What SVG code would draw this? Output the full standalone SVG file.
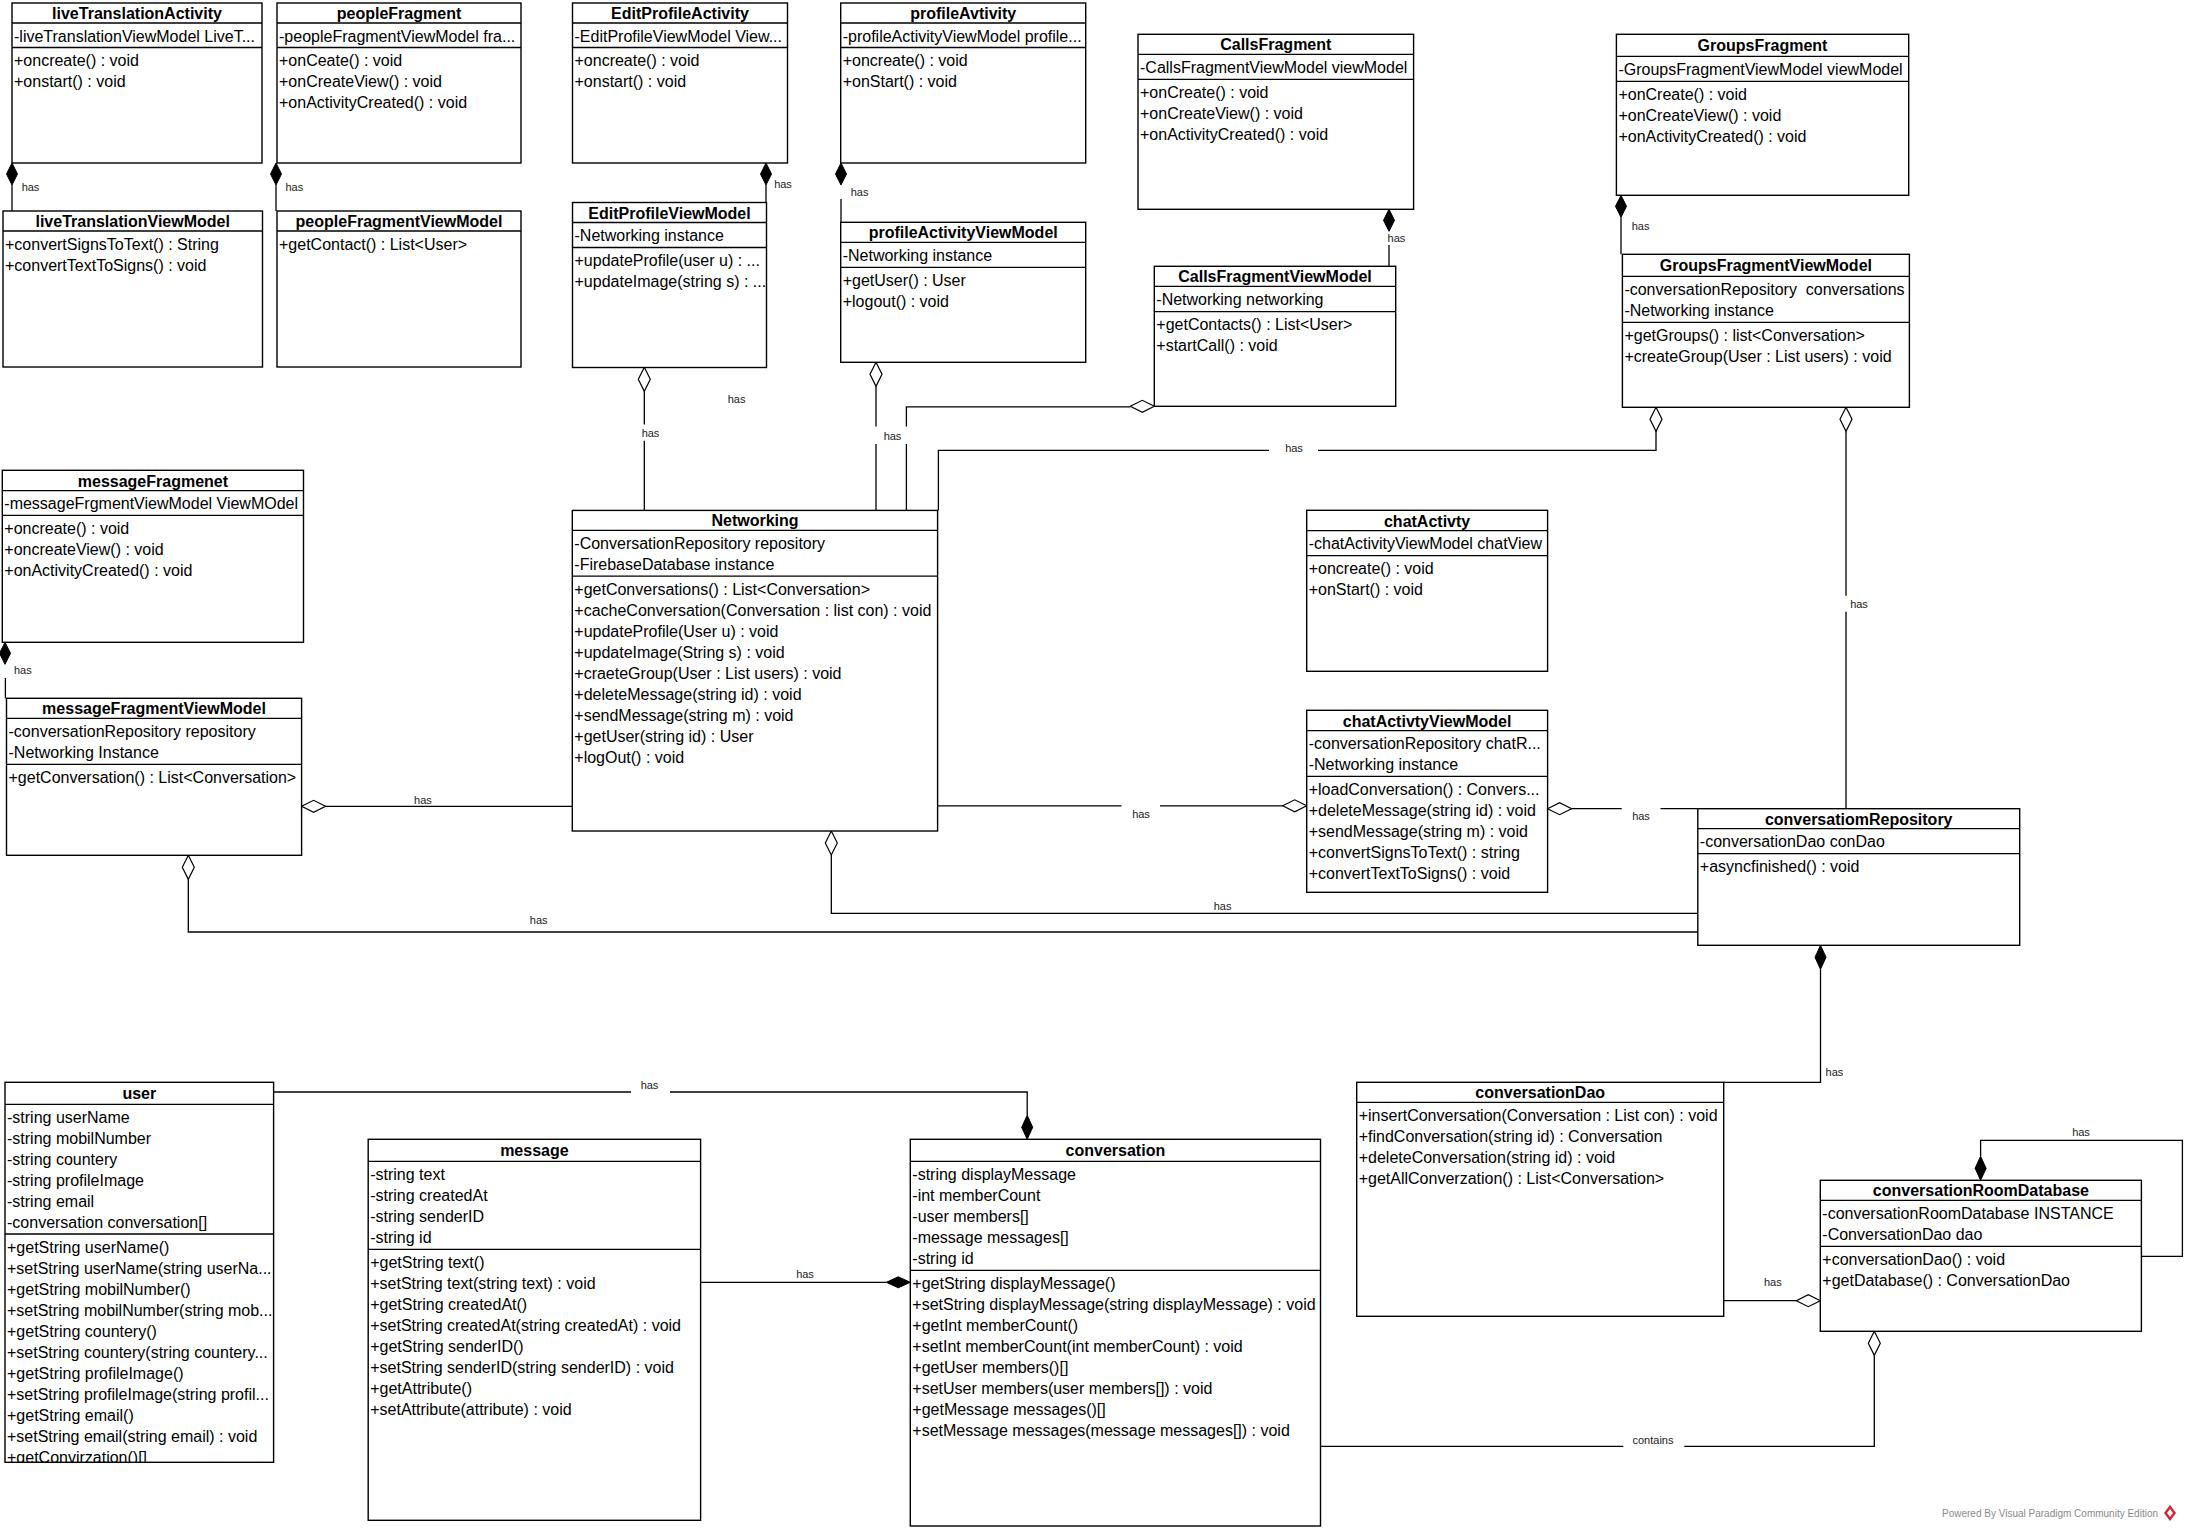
<svg xmlns="http://www.w3.org/2000/svg" width="2186" height="1530" viewBox="0 0 2186 1530">
<style>
.box{fill:#fff;stroke:#000;stroke-width:1.4}
.sep{stroke:#000;stroke-width:1.3}
text{font-family:"Liberation Sans",Arial,sans-serif;font-size:16px;fill:#000}
.ti{font-weight:bold;text-anchor:middle}
.lbl{font-size:11px;text-anchor:middle;fill:#222}
.c{fill:none;stroke:#000;stroke-width:1.3}
.fd{fill:#000;stroke:#000;stroke-width:1}
.od{fill:#fff;stroke:#000;stroke-width:1.2}
.foot{font-size:10px;fill:#8a8a8a}
</style>
<defs>
<clipPath id="clipUser"><rect x="5" y="1082" width="269" height="380"/></clipPath>
</defs>
<rect width="2186" height="1530" fill="#fff"/>

<g id="connectors">
<!-- compositions top row -->
<polygon class="fd" points="12,163 17.5,174 12,185 6.5,174"/><path class="c" d="M12 185V211"/>
<polygon class="fd" points="276,163 281.5,174 276,185 270.5,174"/><path class="c" d="M276 185V211"/>
<polygon class="fd" points="766,163 771.5,174 766,185 760.5,174"/><path class="c" d="M766 185V202.5"/>
<polygon class="fd" points="841,163 846.5,174 841,185 835.5,174"/><path class="c" d="M841 199V222.3"/>
<polygon class="fd" points="1389,209.3 1394.5,220.3 1389,231.3 1383.5,220.3"/><path class="c" d="M1389 245V266.3"/>
<polygon class="fd" points="1621,195.3 1626.5,206.3 1621,217.3 1615.5,206.3"/><path class="c" d="M1621 217.3V254.3"/>
<polygon class="fd" points="5,642.3 10.5,653.3 5,664.3 -0.5,653.3"/><path class="c" d="M5.4 678V698.3"/>
<!-- messageFragmentViewModel aggregations -->
<path class="c" d="M325.6 806.3H572.3"/><polygon class="od" points="301.6,806.3 313.6,800.3 325.6,806.3 313.6,812.3"/>
<path class="c" d="M188.3 879.3V932H1697.8"/><polygon class="od" points="188.3,855.3 194.3,867.3 188.3,879.3 182.3,867.3"/>
<!-- into Networking top -->
<path class="c" d="M644.3 391.3V424.6M644.3 440.7V510.4"/><polygon class="od" points="644.3,367.3 650.3,379.3 644.3,391.3 638.3,379.3"/>
<path class="c" d="M876 386.3V426.4M876 444V510.4"/><polygon class="od" points="876,362.3 882,374.3 876,386.3 870,374.3"/>
<path class="c" d="M1130.3 406.8H906.4V426.4M906.4 444V510.4"/><polygon class="od" points="1154.3,406.3 1142.3,400.3 1130.3,406.3 1142.3,412.3"/>
<path class="c" d="M1656 431.3V450.3H1318M1269 450.3H938.4V510.4"/><polygon class="od" points="1656,407.3 1662,419.3 1656,431.3 1650,419.3"/>
<path class="c" d="M1846 431.3V595.7M1846 611.7V808.7"/><polygon class="od" points="1846,407.3 1852,419.3 1846,431.3 1840,419.3"/>
<!-- Networking / chat / repository -->
<path class="c" d="M1282.7 805.8H1160M1121.5 805.8H937.6"/><polygon class="od" points="1306.7,805.8 1294.7,799.8 1282.7,805.8 1294.7,811.8"/>
<path class="c" d="M1571.6 808.7H1621.7M1660.5 808.7H1697.8"/><polygon class="od" points="1547.6,808.7 1559.6,802.7 1571.6,808.7 1559.6,814.7"/>
<path class="c" d="M831.3 855V913.3H1697.8"/><polygon class="od" points="831.3,831 837.3,843 831.3,855 825.3,843"/>
<!-- repository / dao / room -->
<path class="c" d="M1820.5 969.3V1082.3H1723.7"/><polygon class="fd" points="1820.5,945.3 1826,957.3 1820.5,969.3 1815,957.3"/>
<path class="c" d="M1796.3 1300.7H1723.7"/><polygon class="od" points="1820.3,1300.7 1808.3,1294.7 1796.3,1300.7 1808.3,1306.7"/>
<path class="c" d="M1980.6 1156.3V1140.3H2182.4V1256.3H2141.4"/><polygon class="fd" points="1980.6,1180.3 1986.1,1168.3 1980.6,1156.3 1975.1,1168.3"/>
<path class="c" d="M1874.3 1355.3V1446.3H1684.3M1623.3 1446.3H1320.5"/><polygon class="od" points="1874.3,1331.3 1880.3,1343.3 1874.3,1355.3 1868.3,1343.3"/>
<!-- bottom row -->
<path class="c" d="M1027.2 1115.3V1092H670M631 1092H273.6"/><polygon class="fd" points="1027.2,1139.3 1032.7,1127.3 1027.2,1115.3 1021.7,1127.3"/>
<path class="c" d="M886.3 1282.3H700.6"/><polygon class="fd" points="910.3,1282.3 898.3,1276.8 886.3,1282.3 898.3,1287.8"/>
<!-- labels -->
<text class="lbl" x="30.5" y="191">has</text>
<text class="lbl" x="294.3" y="191">has</text>
<text class="lbl" x="783" y="188">has</text>
<text class="lbl" x="859.6" y="196">has</text>
<text class="lbl" x="1396.4" y="242">has</text>
<text class="lbl" x="1640.6" y="229.7">has</text>
<text class="lbl" x="22.8" y="674.3">has</text>
<text class="lbl" x="422.9" y="804">has</text>
<text class="lbl" x="538.7" y="924.3">has</text>
<text class="lbl" x="650.5" y="436.5">has</text>
<text class="lbl" x="736.6" y="402.6">has</text>
<text class="lbl" x="892.5" y="440">has</text>
<text class="lbl" x="1141" y="818">has</text>
<text class="lbl" x="1294" y="451.5">has</text>
<text class="lbl" x="1222.6" y="910.2">has</text>
<text class="lbl" x="1641" y="820">has</text>
<text class="lbl" x="1859" y="608.3">has</text>
<text class="lbl" x="1834.4" y="1076.3">has</text>
<text class="lbl" x="2081" y="1136.3">has</text>
<text class="lbl" x="1772.8" y="1286.3">has</text>
<text class="lbl" x="1653" y="1444.3">contains</text>
<text class="lbl" x="649.5" y="1089">has</text>
<text class="lbl" x="805" y="1278.3">has</text>
</g>

<g id="liveTranslationActivity">
<rect class="box" x="12" y="3" width="250" height="160"/>
<path class="sep" d="M12 23H262M12 47.5H262"/>
<text class="ti" x="137" y="19">liveTranslationActivity</text>
<text x="14" y="41.5">-liveTranslationViewModel LiveT...</text>
<text x="14" y="66">+oncreate() : void</text>
<text x="14" y="87">+onstart() : void</text>
</g>
<g id="liveTranslationViewModel">
<rect class="box" x="3" y="211" width="259.5" height="156"/>
<path class="sep" d="M3 231H262.5"/>
<text class="ti" x="132.7" y="227">liveTranslationViewModel</text>
<text x="5" y="249.5">+convertSignsToText() : String</text>
<text x="5" y="270.5">+convertTextToSigns() : void</text>
</g>
<g id="peopleFragment">
<rect class="box" x="277" y="3" width="244" height="160"/>
<path class="sep" d="M277 23H521M277 47.5H521"/>
<text class="ti" x="399" y="19">peopleFragment</text>
<text x="279" y="41.5">-peopleFragmentViewModel fra...</text>
<text x="279" y="66">+onCeate() : void</text>
<text x="279" y="87">+onCreateView() : void</text>
<text x="279" y="108">+onActivityCreated() : void</text>
</g>
<g id="peopleFragmentViewModel">
<rect class="box" x="277" y="211" width="244" height="156"/>
<path class="sep" d="M277 231H521"/>
<text class="ti" x="399" y="227">peopleFragmentViewModel</text>
<text x="279" y="249.5">+getContact() : List&lt;User&gt;</text>
</g>
<g id="EditProfileActivity">
<rect class="box" x="572.5" y="3" width="215" height="160"/>
<path class="sep" d="M572.5 23H787.5M572.5 47.5H787.5"/>
<text class="ti" x="680" y="19">EditProfileActivity</text>
<text x="574.5" y="41.5">-EditProfileViewModel View...</text>
<text x="574.5" y="66">+oncreate() : void</text>
<text x="574.5" y="87">+onstart() : void</text>
</g>
<g id="EditProfileViewModel">
<rect class="box" x="572.5" y="202.5" width="194" height="165"/>
<path class="sep" d="M572.5 222.5H766.5M572.5 247.5H766.5"/>
<text class="ti" x="669.5" y="218.5">EditProfileViewModel</text>
<text x="574.5" y="241">-Networking instance</text>
<text x="574.5" y="266">+updateProfile(user u) : ...</text>
<text x="574.5" y="287">+updateImage(string s) : ...</text>
</g>
<g id="profileAvtivity">
<rect class="box" x="840.7" y="3" width="245" height="160"/>
<path class="sep" d="M840.7 23H1085.7M840.7 47.5H1085.7"/>
<text class="ti" x="963.2" y="19">profileAvtivity</text>
<text x="842.7" y="41.5">-profileActivityViewModel profile...</text>
<text x="842.7" y="66">+oncreate() : void</text>
<text x="842.7" y="87">+onStart() : void</text>
</g>
<g id="profileActivityViewModel">
<rect class="box" x="840.7" y="222.3" width="245" height="140"/>
<path class="sep" d="M840.7 242.3H1085.7M840.7 267.3H1085.7"/>
<text class="ti" x="963.2" y="238.3">profileActivityViewModel</text>
<text x="842.7" y="260.8">-Networking instance</text>
<text x="842.7" y="285.8">+getUser() : User</text>
<text x="842.7" y="306.8">+logout() : void</text>
</g>
<g id="CallsFragment">
<rect class="box" x="1138" y="34.3" width="275.6" height="175"/>
<path class="sep" d="M1138 54.3H1413.6M1138 79.3H1413.6"/>
<text class="ti" x="1275.8" y="50.3">CallsFragment</text>
<text x="1140" y="72.8">-CallsFragmentViewModel viewModel</text>
<text x="1140" y="97.8">+onCreate() : void</text>
<text x="1140" y="118.8">+onCreateView() : void</text>
<text x="1140" y="139.8">+onActivityCreated() : void</text>
</g>
<g id="CallsFragmentViewModel">
<rect class="box" x="1154.3" y="266.3" width="241.4" height="140"/>
<path class="sep" d="M1154.3 286.3H1395.7M1154.3 311.7H1395.7"/>
<text class="ti" x="1275" y="282.3">CallsFragmentViewModel</text>
<text x="1156.3" y="304.8">-Networking networking</text>
<text x="1156.3" y="330.2">+getContacts() : List&lt;User&gt;</text>
<text x="1156.3" y="351.2">+startCall() : void</text>
</g>
<g id="GroupsFragment">
<rect class="box" x="1616.4" y="34.3" width="292.3" height="161"/>
<path class="sep" d="M1616.4 56.3H1908.7M1616.4 81.3H1908.7"/>
<text class="ti" x="1762.5" y="51.3">GroupsFragment</text>
<text x="1618.4" y="74.8">-GroupsFragmentViewModel viewModel</text>
<text x="1618.4" y="99.8">+onCreate() : void</text>
<text x="1618.4" y="120.8">+onCreateView() : void</text>
<text x="1618.4" y="141.8">+onActivityCreated() : void</text>
</g>
<g id="GroupsFragmentViewModel">
<rect class="box" x="1622.4" y="254.3" width="287" height="153"/>
<path class="sep" d="M1622.4 276.3H1909.4M1622.4 322.3H1909.4"/>
<text class="ti" x="1765.9" y="271.3">GroupsFragmentViewModel</text>
<text x="1624.4" y="294.8" xml:space="preserve">-conversationRepository  conversations</text>
<text x="1624.4" y="315.8">-Networking instance</text>
<text x="1624.4" y="340.8">+getGroups() : list&lt;Conversation&gt;</text>
<text x="1624.4" y="361.8">+createGroup(User : List users) : void</text>
</g>
<g id="messageFragmenet">
<rect class="box" x="2.3" y="470.3" width="301.2" height="172"/>
<path class="sep" d="M2.3 490.7H303.5M2.3 515.3H303.5"/>
<text class="ti" x="152.9" y="486.5">messageFragmenet</text>
<text x="4.3" y="509.2">-messageFrgmentViewModel ViewMOdel</text>
<text x="4.3" y="533.8">+oncreate() : void</text>
<text x="4.3" y="554.8">+oncreateView() : void</text>
<text x="4.3" y="575.8">+onActivityCreated() : void</text>
</g>
<g id="messageFragmentViewModel">
<rect class="box" x="6.5" y="698.3" width="295.1" height="157"/>
<path class="sep" d="M6.5 718.3H301.6M6.5 764.3H301.6"/>
<text class="ti" x="154" y="714.3">messageFragmentViewModel</text>
<text x="8.5" y="736.8">-conversationRepository repository</text>
<text x="8.5" y="757.8">-Networking Instance</text>
<text x="8.5" y="782.8">+getConversation() : List&lt;Conversation&gt;</text>
</g>
<g id="Networking">
<rect class="box" x="572.3" y="510.4" width="365.3" height="320.6"/>
<path class="sep" d="M572.3 530.4H937.6M572.3 576.1H937.6"/>
<text class="ti" x="755" y="526.4">Networking</text>
<text x="574.3" y="548.9">-ConversationRepository repository</text>
<text x="574.3" y="569.9">-FirebaseDatabase instance</text>
<text x="574.3" y="594.6">+getConversations() : List&lt;Conversation&gt;</text>
<text x="574.3" y="615.6">+cacheConversation(Conversation : list con) : void</text>
<text x="574.3" y="636.6">+updateProfile(User u) : void</text>
<text x="574.3" y="657.6">+updateImage(String s) : void</text>
<text x="574.3" y="678.6">+craeteGroup(User : List users) : void</text>
<text x="574.3" y="699.6">+deleteMessage(string id) : void</text>
<text x="574.3" y="720.6">+sendMessage(string m) : void</text>
<text x="574.3" y="741.6">+getUser(string id) : User</text>
<text x="574.3" y="762.6">+logOut() : void</text>
</g>
<g id="chatActivty">
<rect class="box" x="1306.7" y="510.3" width="240.9" height="161"/>
<path class="sep" d="M1306.7 530.7H1547.6M1306.7 555.7H1547.6"/>
<text class="ti" x="1427.1" y="526.5">chatActivty</text>
<text x="1308.7" y="549.2">-chatActivityViewModel chatView</text>
<text x="1308.7" y="574.2">+oncreate() : void</text>
<text x="1308.7" y="595.2">+onStart() : void</text>
</g>
<g id="chatActivtyViewModel">
<rect class="box" x="1306.7" y="710.3" width="240.9" height="182"/>
<path class="sep" d="M1306.7 730.7H1547.6M1306.7 776.3H1547.6"/>
<text class="ti" x="1427.1" y="726.5">chatActivtyViewModel</text>
<text x="1308.7" y="749.2">-conversationRepository chatR...</text>
<text x="1308.7" y="770.2">-Networking instance</text>
<text x="1308.7" y="794.8">+loadConversation() : Convers...</text>
<text x="1308.7" y="815.8">+deleteMessage(string id) : void</text>
<text x="1308.7" y="836.8">+sendMessage(string m) : void</text>
<text x="1308.7" y="857.8">+convertSignsToText() : string</text>
<text x="1308.7" y="878.8">+convertTextToSigns() : void</text>
</g>
<g id="conversatiomRepository">
<rect class="box" x="1697.8" y="808.7" width="321.9" height="136.6"/>
<path class="sep" d="M1697.8 828.7H2019.7M1697.8 853.7H2019.7"/>
<text class="ti" x="1858.7" y="824.7">conversatiomRepository</text>
<text x="1699.8" y="847.2">-conversationDao conDao</text>
<text x="1699.8" y="872.2">+asyncfinished() : void</text>
</g>
<g id="conversationDao">
<rect class="box" x="1356.7" y="1082.3" width="367" height="234"/>
<path class="sep" d="M1356.7 1102.3H1723.7"/>
<text class="ti" x="1540.2" y="1098.3">conversationDao</text>
<text x="1358.7" y="1120.8">+insertConversation(Conversation : List con) : void</text>
<text x="1358.7" y="1141.8">+findConversation(string id) : Conversation</text>
<text x="1358.7" y="1162.8">+deleteConversation(string id) : void</text>
<text x="1358.7" y="1183.8">+getAllConverzation() : List&lt;Conversation&gt;</text>
</g>
<g id="conversationRoomDatabase">
<rect class="box" x="1820.3" y="1180.3" width="321.1" height="151"/>
<path class="sep" d="M1820.3 1200.3H2141.4M1820.3 1246.3H2141.4"/>
<text class="ti" x="1980.9" y="1196.3">conversationRoomDatabase</text>
<text x="1822.3" y="1218.8">-conversationRoomDatabase INSTANCE</text>
<text x="1822.3" y="1239.8">-ConversationDao dao</text>
<text x="1822.3" y="1264.8">+conversationDao() : void</text>
<text x="1822.3" y="1285.8">+getDatabase() : ConversationDao</text>
</g>
<g id="user">
<rect class="box" x="5" y="1082.3" width="268.6" height="380"/>
<path class="sep" d="M5 1104.3H273.6M5 1234H273.6"/>
<text class="ti" x="139.3" y="1099.3">user</text>
<text x="7" y="1122.8">-string userName</text>
<text x="7" y="1143.8">-string mobilNumber</text>
<text x="7" y="1164.8">-string countery</text>
<text x="7" y="1185.8">-string profileImage</text>
<text x="7" y="1206.8">-string email</text>
<text x="7" y="1227.8">-conversation conversation[]</text>
<g clip-path="url(#clipUser)">
<text x="7" y="1252.5">+getString userName()</text>
<text x="7" y="1273.5">+setString userName(string userNa...</text>
<text x="7" y="1294.5">+getString mobilNumber()</text>
<text x="7" y="1315.5">+setString mobilNumber(string mob...</text>
<text x="7" y="1336.5">+getString countery()</text>
<text x="7" y="1357.5">+setString countery(string countery...</text>
<text x="7" y="1378.5">+getString profileImage()</text>
<text x="7" y="1399.5">+setString profileImage(string profil...</text>
<text x="7" y="1420.5">+getString email()</text>
<text x="7" y="1441.5">+setString email(string email) : void</text>
<text x="7" y="1462.5">+getConvirzation()[]</text>
</g>
</g>
<g id="message">
<rect class="box" x="368.2" y="1139.3" width="332.4" height="381"/>
<path class="sep" d="M368.2 1161.3H700.6M368.2 1249.3H700.6"/>
<text class="ti" x="534.4" y="1156.3">message</text>
<text x="370.2" y="1179.8">-string text</text>
<text x="370.2" y="1200.8">-string createdAt</text>
<text x="370.2" y="1221.8">-string senderID</text>
<text x="370.2" y="1242.8">-string id</text>
<text x="370.2" y="1267.8">+getString text()</text>
<text x="370.2" y="1288.8">+setString text(string text) : void</text>
<text x="370.2" y="1309.8">+getString createdAt()</text>
<text x="370.2" y="1330.8">+setString createdAt(string createdAt) : void</text>
<text x="370.2" y="1351.8">+getString senderID()</text>
<text x="370.2" y="1372.8">+setString senderID(string senderID) : void</text>
<text x="370.2" y="1393.8">+getAttribute()</text>
<text x="370.2" y="1414.8">+setAttribute(attribute) : void</text>
</g>
<g id="conversation">
<rect class="box" x="910.3" y="1139.3" width="410.2" height="386.7"/>
<path class="sep" d="M910.3 1161.3H1320.5M910.3 1270.3H1320.5"/>
<text class="ti" x="1115.4" y="1156.3">conversation</text>
<text x="912.3" y="1179.8">-string displayMessage</text>
<text x="912.3" y="1200.8">-int memberCount</text>
<text x="912.3" y="1221.8">-user members[]</text>
<text x="912.3" y="1242.8">-message messages[]</text>
<text x="912.3" y="1263.8">-string id</text>
<text x="912.3" y="1288.8">+getString displayMessage()</text>
<text x="912.3" y="1309.8">+setString displayMessage(string displayMessage) : void</text>
<text x="912.3" y="1330.8">+getInt memberCount()</text>
<text x="912.3" y="1351.8">+setInt memberCount(int memberCount) : void</text>
<text x="912.3" y="1372.8">+getUser members()[]</text>
<text x="912.3" y="1393.8">+setUser members(user members[]) : void</text>
<text x="912.3" y="1414.8">+getMessage messages()[]</text>
<text x="912.3" y="1435.8">+setMessage messages(message messages[]) : void</text>
</g>
<g id="footer">
<text class="foot" x="1942" y="1517">Powered By Visual Paradigm Community Edition</text>
<polygon points="2170,1505 2176,1513 2170,1521 2164,1513" fill="#d9232e"/>
<polygon points="2170,1509 2173,1513 2170,1517 2167,1513" fill="#fff"/>
</g>
</svg>
